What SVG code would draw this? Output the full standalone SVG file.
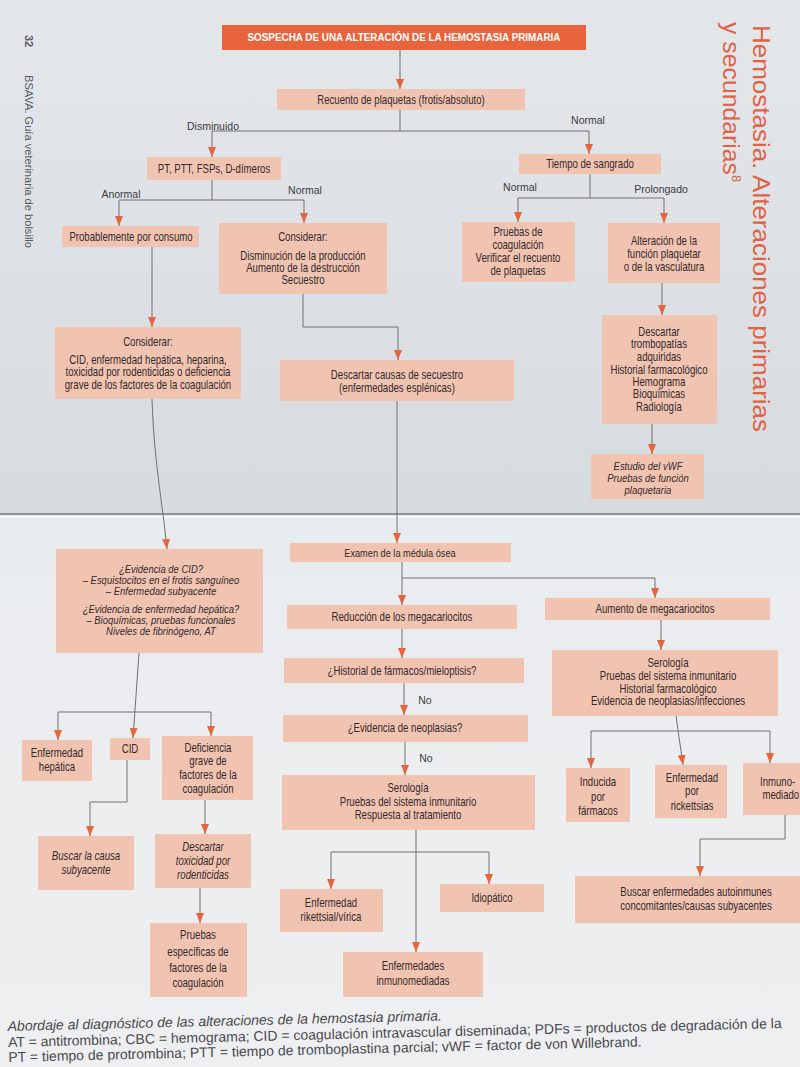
<svg xmlns="http://www.w3.org/2000/svg" width="800" height="1067" viewBox="0 0 800 1067">
<defs>
<marker id="ah" viewBox="0 0 10 8" refX="10" refY="4" markerWidth="10" markerHeight="8" orient="auto" markerUnits="userSpaceOnUse">
<path d="M0,0 L10,4 L0,8 z" fill="#e5653d"/>
</marker>
<linearGradient id="pgTop" x1="0" y1="0" x2="0" y2="1">
<stop offset="0" stop-color="#e4e7ea"/>
<stop offset="1" stop-color="#d6dbe0"/>
</linearGradient>
<linearGradient id="pgBot" x1="0" y1="0" x2="0" y2="1">
<stop offset="0" stop-color="#e9ecef"/>
<stop offset="1" stop-color="#eeeff0"/>
</linearGradient>
</defs>
<style>
.box{fill:#f1c4b2;}
.t{font-family:"Liberation Sans",Arial,sans-serif;font-size:12px;fill:#33292a;text-anchor:middle;}
.s{font-size:11px;}
.i{font-style:italic;}
.lbl{font-family:"Liberation Sans",Arial,sans-serif;font-size:10.5px;fill:#3b3b40;text-anchor:middle;}
.c{fill:none;stroke:#707070;stroke-width:1;}
.a{marker-end:url(#ah);}
.hdr{font-family:"Liberation Sans",Arial,sans-serif;font-size:24px;fill:#e06242;}
.spine{font-family:"Liberation Sans",Arial,sans-serif;font-size:11px;fill:#555a60;}
.cap{font-family:"Liberation Sans",Arial,sans-serif;font-size:14px;fill:#4a4a4e;}
</style>

<!-- page background -->
<rect x="0" y="0" width="800" height="515" fill="url(#pgTop)"/>
<rect x="0" y="515" width="800" height="552" fill="url(#pgBot)"/>
<path d="M0,514 H800" stroke="#8e949a" stroke-width="2"/>
<path d="M0,517 H800" stroke="#f7f8f9" stroke-width="2"/>

<!-- spine / header texts -->
<text class="spine" font-weight="bold" transform="translate(25,35) rotate(90)">32</text>
<text class="spine" transform="translate(25,75) rotate(90)" textLength="173" lengthAdjust="spacingAndGlyphs">BSAVA. Guía veterinaria de bolsillo</text>
<text class="hdr" transform="translate(753,25) rotate(90)" textLength="407" lengthAdjust="spacingAndGlyphs">Hemostasia. Alteraciones primarias</text>
<text class="hdr" transform="translate(723,22) rotate(90)"><tspan textLength="153" lengthAdjust="spacingAndGlyphs">y secundarias</tspan><tspan font-size="13px" dy="-9">8</tspan></text>

<!-- connectors -->
<g id="connectors">
<path class="c a" d="M400,50 V89"/>
<path class="c" d="M400,110 V131"/>
<path class="c a" d="M400,131 H212 V157"/>
<path class="c a" d="M400,131 H589 V154"/>
<path class="c" d="M212,180 V200"/>
<path class="c a" d="M212,200 H119 V226"/>
<path class="c a" d="M212,200 H304 V223"/>
<path class="c" d="M590,174 V198"/>
<path class="c a" d="M590,198 H518 V222"/>
<path class="c a" d="M590,198 H664 V223"/>
<path class="c a" d="M152,247 V327"/>
<path class="c a" d="M303,294 V327 H398 V360"/>
<path class="c a" d="M662,283 V315"/>
<path class="c a" d="M652,424 V454"/>
<path class="c a" d="M152,399 C154,460 162,500 167,549"/>
<path class="c a" d="M397,401 V543"/>
<path class="c a" d="M139,653 L133,738"/>
<path class="c a" d="M134,712 H58 V740"/>
<path class="c a" d="M134,712 H211 V736"/>
<path class="c a" d="M127,760 V802 H90 V836"/>
<path class="c a" d="M205,800 V834"/>
<path class="c a" d="M200,888 V923"/>
<path class="c a" d="M402,562 V605"/>
<path class="c a" d="M402,578 H655 V598"/>
<path class="c a" d="M402,629 V658"/>
<path class="c a" d="M404,683 V715"/>
<path class="c a" d="M405,742 V775"/>
<path class="c a" d="M416,830 V952"/>
<path class="c a" d="M416,852 H331 V889"/>
<path class="c a" d="M416,852 H489 V884"/>
<path class="c a" d="M661,620 V650"/>
<path class="c a" d="M676,716 L683,765"/>
<path class="c a" d="M682,731 H591 V768"/>
<path class="c a" d="M682,731 H770 V763"/>
<path class="c a" d="M785,815 V839 H700 V876"/>
<text class="lbl" x="213" y="130">Disminuido</text>
<text class="lbl" x="588" y="124">Normal</text>
<text class="lbl" x="121" y="198">Anormal</text>
<text class="lbl" x="305" y="194">Normal</text>
<text class="lbl" x="520" y="191">Normal</text>
<text class="lbl" x="661" y="193">Prolongado</text>
<text class="lbl" x="425" y="704">No</text>
<text class="lbl" x="426" y="762">No</text>
</g>

<!-- nodes -->
<g id="n_title">
<rect x="222" y="25" width="364" height="25" fill="#e8643c"/>
<text class="t" x="404" y="41" style="fill:#fff;font-weight:bold;font-size:11px" textLength="313" lengthAdjust="spacingAndGlyphs">SOSPECHA DE UNA ALTERACIÓN DE LA HEMOSTASIA PRIMARIA</text>
</g>
<g id="n_recuento">
<rect class="box" x="277" y="89" width="248" height="21"/>
<g transform="matrix(0.8,0,0,1,80.2,0)">
<text class="t" x="401" y="104">Recuento de plaquetas (frotis/absoluto)</text>
</g>
</g>
<g id="n_pt">
<rect class="box" x="147" y="157" width="134" height="23"/>
<g transform="matrix(0.8,0,0,1,42.8,0)">
<text class="t" x="214" y="173">PT, PTT, FSPs, D-dímeros</text>
</g>
</g>
<g id="n_tiempo">
<rect class="box" x="519" y="154" width="142" height="20"/>
<g transform="matrix(0.8,0,0,1,118,0)">
<text class="t" x="590" y="168">Tiempo de sangrado</text>
</g>
</g>
<g id="n_probable">
<rect class="box" x="62" y="226" width="137" height="21"/>
<g transform="matrix(0.8,0,0,1,26.2,0)">
<text class="t" x="131" y="241">Probablemente por consumo</text>
</g>
</g>
<g id="n_considerar1">
<rect class="box" x="219" y="223" width="168" height="71"/>
<g transform="matrix(0.8,0,0,1,60.6,0)">
<text class="t" x="303" y="241">Considerar:</text>
<text class="t" x="303" y="260">Disminución de la producción</text>
<text class="t" x="303" y="272">Aumento de la destrucción</text>
<text class="t" x="303" y="284">Secuestro</text>
</g>
</g>
<g id="n_pruebas">
<rect class="box" x="462" y="222" width="113" height="60"/>
<g transform="matrix(0.8,0,0,1,103.6,0)">
<text class="t" x="518" y="236">Pruebas de</text>
<text class="t" x="518" y="249">coagulación</text>
<text class="t" x="518" y="262">Verificar el recuento</text>
<text class="t" x="518" y="275">de plaquetas</text>
</g>
</g>
<g id="n_alteracion">
<rect class="box" x="608" y="223" width="112" height="60"/>
<g transform="matrix(0.8,0,0,1,132.8,0)">
<text class="t" x="664" y="245">Alteración de la</text>
<text class="t" x="664" y="258">función plaquetar</text>
<text class="t" x="664" y="271">o de la vasculatura</text>
</g>
</g>
<g id="n_considerar2">
<rect class="box" x="55" y="327" width="186" height="72"/>
<g transform="matrix(0.8,0,0,1,29.6,0)">
<text class="t" x="148" y="346">Considerar:</text>
<text class="t" x="148" y="364">CID, enfermedad hepática, heparina,</text>
<text class="t" x="148" y="376">toxicidad por rodenticidas o deficiencia</text>
<text class="t" x="148" y="389">grave de los factores de la coagulación</text>
</g>
</g>
<g id="n_secuestro">
<rect class="box" x="280" y="360" width="234" height="41"/>
<g transform="matrix(0.8,0,0,1,79.4,0)">
<text class="t" x="397" y="379">Descartar causas de secuestro</text>
<text class="t" x="397" y="392">(enfermedades esplénicas)</text>
</g>
</g>
<g id="n_descartar">
<rect class="box" x="602" y="315" width="115" height="109"/>
<g transform="matrix(0.8,0,0,1,131.8,0)">
<text class="t" x="659" y="336">Descartar</text>
<text class="t" x="659" y="348">trombopatías</text>
<text class="t" x="659" y="361">adquiridas</text>
<text class="t" x="659" y="374">Historial farmacológico</text>
<text class="t" x="659" y="386">Hemograma</text>
<text class="t" x="659" y="398">Bioquímicas</text>
<text class="t" x="659" y="411">Radiología</text>
</g>
</g>
<g id="n_vwf">
<rect class="box" x="591" y="454" width="113" height="45"/>
<g transform="matrix(0.86,0,0,1,90.72,0)">
<text class="t i s" x="648" y="470">Estudio del vWF</text>
<text class="t i s" x="648" y="482">Pruebas de función</text>
<text class="t i s" x="648" y="494">plaquetaria</text>
</g>
</g>
<g id="n_evid">
<rect class="box" x="56" y="549" width="207" height="104"/>
<g transform="matrix(0.86,0,0,1,22.54,0)">
<text class="t i s" x="161" y="573">¿Evidencia de CID?</text>
<text class="t i s" x="161" y="584">– Esquistocitos en el frotis sanguíneo</text>
<text class="t i s" x="161" y="595">– Enfermedad subyacente</text>
<text class="t i s" x="161" y="613">¿Evidencia de enfermedad hepática?</text>
<text class="t i s" x="161" y="624">– Bioquímicas, pruebas funcionales</text>
<text class="t i s" x="161" y="635">Niveles de fibrinógeno, AT</text>
</g>
</g>
<g id="n_hep">
<rect class="box" x="22" y="740" width="70" height="41"/>
<g transform="matrix(0.8,0,0,1,11.4,0)">
<text class="t" x="57" y="757">Enfermedad</text>
<text class="t" x="57" y="771">hepática</text>
</g>
</g>
<g id="n_cid">
<rect class="box" x="110" y="738" width="40" height="22"/>
<g transform="matrix(0.8,0,0,1,26,0)">
<text class="t" x="130" y="753">CID</text>
</g>
</g>
<g id="n_def">
<rect class="box" x="162" y="736" width="91" height="64"/>
<g transform="matrix(0.8,0,0,1,41.6,0)">
<text class="t" x="208" y="752">Deficiencia</text>
<text class="t" x="208" y="765">grave de</text>
<text class="t" x="208" y="779">factores de la</text>
<text class="t" x="208" y="793">coagulación</text>
</g>
</g>
<g id="n_buscar">
<rect class="box" x="38" y="836" width="96" height="54"/>
<g transform="matrix(0.8,0,0,1,17.2,0)">
<text class="t i" x="86" y="860">Buscar la causa</text>
<text class="t i" x="86" y="874">subyacente</text>
</g>
</g>
<g id="n_toxic">
<rect class="box" x="155" y="834" width="96" height="54"/>
<g transform="matrix(0.8,0,0,1,40.6,0)">
<text class="t i" x="203" y="851">Descartar</text>
<text class="t i" x="203" y="865">toxicidad por</text>
<text class="t i" x="203" y="879">rodenticidas</text>
</g>
</g>
<g id="n_pruebasesp">
<rect class="box" x="150" y="923" width="97" height="74"/>
<g transform="matrix(0.8,0,0,1,39.6,0)">
<text class="t" x="198" y="939">Pruebas</text>
<text class="t" x="198" y="956">específicas de</text>
<text class="t" x="198" y="972">factores de la</text>
<text class="t" x="198" y="987">coagulación</text>
</g>
</g>
<g id="n_examen">
<rect class="box" x="290" y="543" width="221" height="19"/>
<g transform="matrix(0.8,0,0,1,80,0)">
<text class="t" x="400" y="557" style="font-size:11.5px">Examen de la médula ósea</text>
</g>
</g>
<g id="n_reduccion">
<rect class="box" x="287" y="605" width="230" height="24"/>
<g transform="matrix(0.8,0,0,1,80.4,0)">
<text class="t" x="402" y="621">Reducción de los megacariocitos</text>
</g>
</g>
<g id="n_aumento">
<rect class="box" x="545" y="598" width="225" height="22"/>
<g transform="matrix(0.8,0,0,1,131,0)">
<text class="t" x="655" y="613">Aumento de megacariocitos</text>
</g>
</g>
<g id="n_historial">
<rect class="box" x="284" y="658" width="240" height="25"/>
<g transform="matrix(0.8,0,0,1,80.4,0)">
<text class="t" x="402" y="675">¿Historial de fármacos/mieloptisis?</text>
</g>
</g>
<g id="n_neopl">
<rect class="box" x="283" y="715" width="245" height="27"/>
<g transform="matrix(0.8,0,0,1,81,0)">
<text class="t" x="405" y="732">¿Evidencia de neoplasias?</text>
</g>
</g>
<g id="n_serol">
<rect class="box" x="282" y="775" width="253" height="55"/>
<g transform="matrix(0.8,0,0,1,81.6,0)">
<text class="t" x="408" y="792">Serología</text>
<text class="t" x="408" y="806">Pruebas del sistema inmunitario</text>
<text class="t" x="408" y="819">Respuesta al tratamiento</text>
</g>
</g>
<g id="n_serolR">
<rect class="box" x="552" y="650" width="226" height="66"/>
<g transform="matrix(0.8,0,0,1,133.6,0)">
<text class="t" x="668" y="667">Serología</text>
<text class="t" x="668" y="680">Pruebas del sistema inmunitario</text>
<text class="t" x="668" y="693">Historial farmacológico</text>
<text class="t" x="668" y="705">Evidencia de neoplasias/infecciones</text>
</g>
</g>
<g id="n_inducida">
<rect class="box" x="566" y="768" width="64" height="54"/>
<g transform="matrix(0.8,0,0,1,119.6,0)">
<text class="t" x="598" y="786">Inducida</text>
<text class="t" x="598" y="801">por</text>
<text class="t" x="598" y="815">fármacos</text>
</g>
</g>
<g id="n_rick">
<rect class="box" x="655" y="765" width="72" height="53"/>
<g transform="matrix(0.8,0,0,1,138.4,0)">
<text class="t" x="692" y="782">Enfermedad</text>
<text class="t" x="692" y="795">por</text>
<text class="t" x="692" y="810">rickettsias</text>
</g>
</g>
<g id="n_inmuno">
<rect class="box" x="743" y="763" width="70" height="52"/>
<g transform="matrix(0.8,0,0,1,152,0)">
<text class="t" x="760" y="786" style="text-anchor:start">Inmuno-</text>
<text class="t" x="763" y="799" style="text-anchor:start">mediado</text>
</g>
</g>
<g id="n_rickv">
<rect class="box" x="280" y="889" width="103" height="43"/>
<g transform="matrix(0.8,0,0,1,66.2,0)">
<text class="t" x="331" y="907">Enfermedad</text>
<text class="t" x="331" y="921">rikettsial/vírica</text>
</g>
</g>
<g id="n_idio">
<rect class="box" x="440" y="884" width="104" height="28"/>
<g transform="matrix(0.8,0,0,1,98.4,0)">
<text class="t" x="492" y="902">Idiopático</text>
</g>
</g>
<g id="n_inmunomed">
<rect class="box" x="343" y="952" width="140" height="45"/>
<g transform="matrix(0.8,0,0,1,82.6,0)">
<text class="t" x="413" y="970">Enfermedades</text>
<text class="t" x="413" y="985">inmunomediadas</text>
</g>
</g>
<g id="n_autoinm">
<rect class="box" x="575" y="876" width="230" height="47"/>
<g transform="matrix(0.8,0,0,1,139.2,0)">
<text class="t" x="696" y="896">Buscar enfermedades autoinmunes</text>
<text class="t" x="696" y="910">concomitantes/causas subyacentes</text>
</g>
</g>

<!-- caption -->
<g transform="rotate(-1.4 8 1040)">
<text class="cap" x="8" y="1031" font-style="italic">Abordaje al diagnóstico de las alteraciones de la hemostasia primaria.</text>
<text class="cap" x="8" y="1047">AT = antitrombina; CBC = hemograma; CID = coagulación intravascular diseminada; PDFs = productos de degradación de la</text>
<text class="cap" x="8" y="1062">PT = tiempo de protrombina; PTT = tiempo de tromboplastina parcial; vWF = factor de von Willebrand.</text>
</g>
</svg>
